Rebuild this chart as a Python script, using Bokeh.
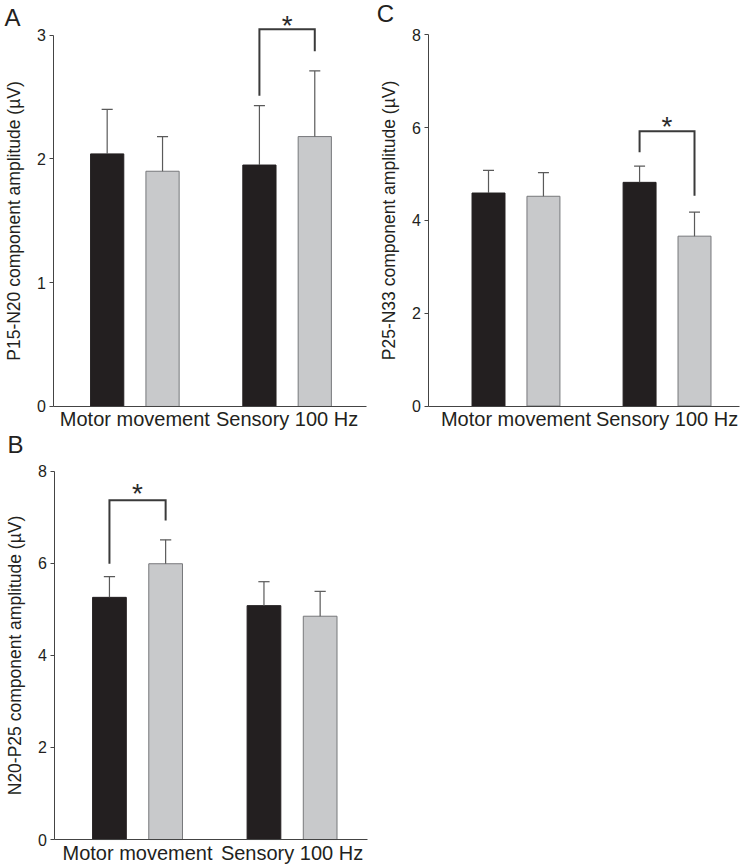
from bokeh.plotting import figure
from bokeh.layouts import column, row
from bokeh.models import Range1d, FixedTicker
from bokeh.core.properties import value
from bokeh.embed import file_html
from bokeh.resources import INLINE

# ---------------- data ----------------
categories = ["Motor movement", "Sensory 100 Hz"]
black_pos = [1.05, 3.8]
grey_pos = [2.05, 4.8]
group_pos = [1.55, 4.3]

# Panel A: P15-N20 component amplitude (mean, SEM)
a_black = [2.04, 1.95]
a_black_sem = [0.36, 0.48]
a_grey = [1.90, 2.18]
a_grey_sem = [0.28, 0.53]
a_ticks = [0, 1, 2, 3]

# Panel B: N20-P25 component amplitude
b_black = [5.26, 5.08]
b_black_sem = [0.45, 0.52]
b_grey = [5.99, 4.85]
b_grey_sem = [0.52, 0.54]
bc_ticks = [0, 2, 4, 6, 8]

# Panel C: P25-N33 component amplitude
c_black = [4.59, 4.82]
c_black_sem = [0.49, 0.35]
c_grey = [4.52, 3.66]
c_grey_sem = [0.51, 0.52]

# significance brackets: (x_left, y_left_bottom, y_top, x_right, y_right_bottom, y_star)
a_sig = (black_pos[1], 2.51, 3.046, grey_pos[1], 2.87, 3.08)
b_sig = (black_pos[0], 5.99, 7.37, grey_pos[0], 6.93, 7.52)
c_sig = (black_pos[1], 5.47, 5.92, grey_pos[1], 4.53, 6.02)

FONT = "Liberation Sans"
BLACK = "#231f20"
GREY = "#c8c9cb"
GREY_LINE = "#77787b"
ERR = "#5a5a5a"


def make_panel(letter, ylabel, blacks, bsem, greys, gsem, ticks, sig,
               width, height, xr, yr, yaxis_x, xaxis_end, ymax_tick, letter_xy):
    p = figure(width=width, height=height, output_backend="svg",
               toolbar_location=None, x_range=Range1d(*xr), y_range=Range1d(*yr),
               min_border_left=0, min_border_right=0, min_border_top=0,
               min_border_bottom=0, outline_line_color=None,
               background_fill_color="white", border_fill_color="white")
    p.xgrid.visible = False
    p.ygrid.visible = False

    # bars
    p.vbar(x=black_pos, top=blacks, bottom=0, width=0.6,
           fill_color=BLACK, line_color=BLACK, line_width=1)
    p.vbar(x=grey_pos, top=greys, bottom=0, width=0.6,
           fill_color=GREY, line_color=GREY_LINE, line_width=1)

    # error bars (upper only)
    for pos, vals, sems in ((black_pos, blacks, bsem), (grey_pos, greys, gsem)):
        tops = [v + s for v, s in zip(vals, sems)]
        p.segment(x0=pos, y0=vals, x1=pos, y1=tops, line_color=ERR, line_width=1.2)
        p.segment(x0=[x - 0.1 for x in pos], y0=tops,
                  x1=[x + 0.1 for x in pos], y1=tops, line_color=ERR, line_width=1.2)

    # significance bracket and star
    xl, yl, yt, xr2, yr2, ys = sig
    p.line(x=[xl, xl, xr2, xr2], y=[yl, yt, yt, yr2], line_color="#3a3a3a",
           line_width=2, line_join="miter")
    p.text(x=[(xl + xr2) / 2], y=[ys], text=["*"], text_align="center",
           text_baseline="middle", text_font=value(FONT),
           text_font_size="28px", text_color="#2a2a2a")

    # panel letter
    p.text(x=[letter_xy[0]], y=[letter_xy[1]], text=[letter], text_align="left",
           text_baseline="top", text_font=value(FONT), text_font_size="24px",
           text_color=BLACK)

    # axes (placed at fixed data locations inside the frame)
    p.yaxis.fixed_location = yaxis_x
    p.yaxis.ticker = FixedTicker(ticks=ticks)
    p.yaxis.bounds = (0, ymax_tick)
    p.yaxis.axis_label = ylabel
    p.yaxis.axis_label_text_font = FONT
    p.yaxis.axis_label_text_font_size = "17.5px"
    p.yaxis.axis_label_text_font_style = "normal"
    p.yaxis.axis_label_text_color = BLACK
    p.yaxis.axis_label_standoff = 10
    p.yaxis.major_label_text_font = FONT
    p.yaxis.major_label_text_font_size = "16px"
    p.yaxis.major_label_text_color = BLACK
    p.yaxis.major_label_standoff = 4
    p.yaxis.major_tick_out = 4
    p.yaxis.major_tick_in = 0
    p.yaxis.minor_tick_line_color = None
    p.yaxis.axis_line_color = "#444444"
    p.yaxis.major_tick_line_color = "#444444"

    p.xaxis.fixed_location = 0
    p.xaxis.bounds = (yaxis_x, xaxis_end)
    p.xaxis.ticker = FixedTicker(ticks=group_pos)
    p.xaxis.major_label_overrides = {g: c for g, c in zip(group_pos, categories)}
    p.xaxis.major_label_text_font = FONT
    p.xaxis.major_label_text_font_size = "20px"
    p.xaxis.major_label_text_color = BLACK
    p.xaxis.major_label_standoff = 2
    p.xaxis.major_tick_line_color = None
    p.xaxis.minor_tick_line_color = None
    p.xaxis.major_tick_out = 0
    p.xaxis.major_tick_in = 0
    p.xaxis.axis_line_color = "#444444"
    return p


pA = make_panel("A", "P15-N20 component amplitude (\u00b5V)", a_black, a_black_sem,
                a_grey, a_grey_sem, a_ticks, a_sig,
                width=376, height=430, xr=(-0.877, 5.915), yr=(-0.194, 3.279),
                yaxis_x=0.089, xaxis_end=5.734, ymax_tick=3,
                letter_xy=(-0.805, 3.247))
pC = make_panel("C", "P25-N33 component amplitude (\u00b5V)", c_black, c_black_sem,
                c_grey, c_grey_sem, bc_ticks, c_sig,
                width=368, height=430, xr=(-0.989, 5.71), yr=(-0.528, 8.739),
                yaxis_x=-0.037, xaxis_end=5.625, ymax_tick=8,
                letter_xy=(-0.985, 8.75))
pB = make_panel("B", "N20-P25 component amplitude (\u00b5V)", b_black, b_black_sem,
                b_grey, b_grey_sem, bc_ticks, b_sig,
                width=376, height=436, xr=(-0.889, 5.803), yr=(-0.586, 8.884),
                yaxis_x=0.077, xaxis_end=5.637, ymax_tick=8,
                letter_xy=(-0.764, 8.87))

layout = column(row(pA, pC), pB)
open("out.html", "w").write(file_html(layout, INLINE))
